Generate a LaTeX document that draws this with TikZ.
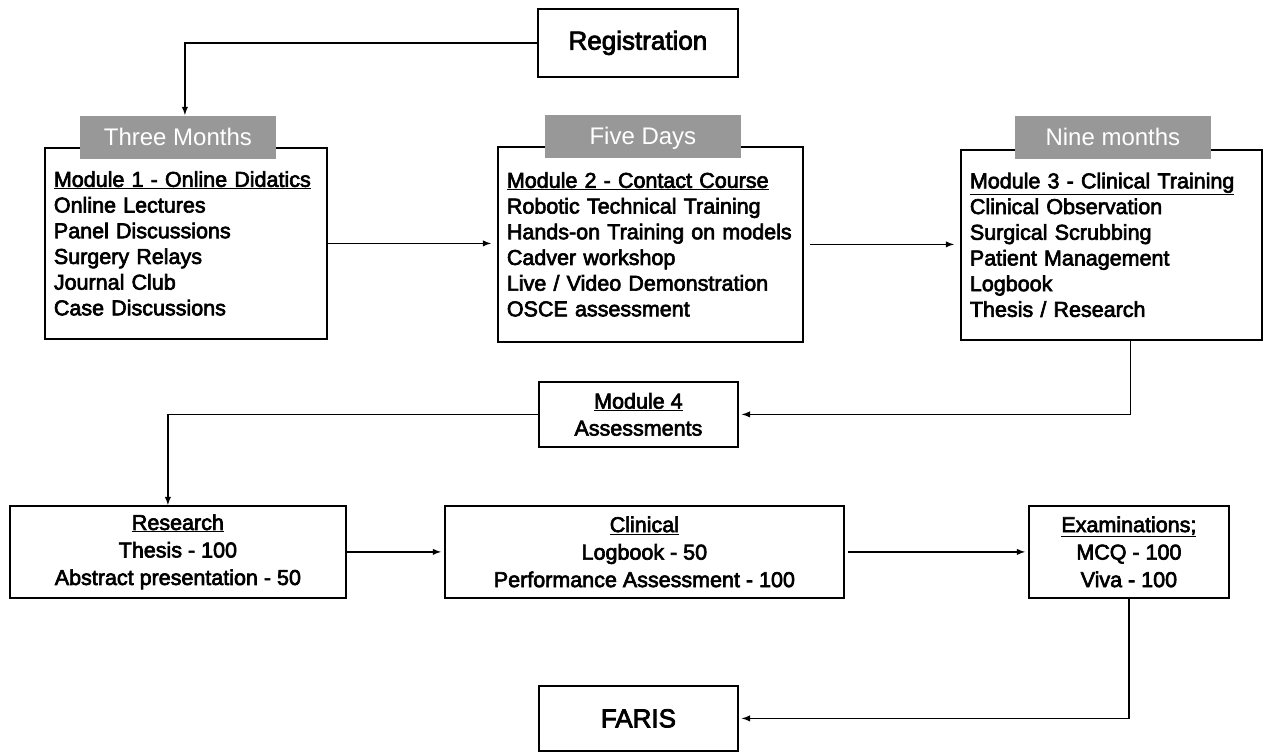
\documentclass[tikz,border=0pt]{standalone}
\usepackage{fontspec}
\setmainfont{Liberation Sans}
\newfontfamily\boxfont{Liberation Sans}[FakeBold=3]
\definecolor{tabgray}{RGB}{152,152,152}

\tikzset{
	stage/.style={draw, rectangle, anchor=north west, align=left, inner xsep=9pt,
		font=\boxfont\fontsize{21.5}{25.7}\selectfont},
	score/.style={draw, rectangle, anchor=north west, align=center,
		font=\boxfont\fontsize{21.5}{27.5}\selectfont},
	tab/.style={rectangle, fill=tabgray, text=white, anchor=north west, inner sep=0pt,
		minimum width=196pt, minimum height=43pt, text height=17pt, text depth=0pt,
		font=\fontsize{24}{24}\selectfont},
}

\begin{document}
\begin{tikzpicture}[x=1pt, y=-1pt, >=latex, line width=1.8pt]
		\useasboundingbox (0,0) rectangle (1263,752);
		
		\node (reg) [score, minimum width=200pt, minimum height=68pt, font=\boxfont\fontsize{26}{30}\selectfont] at (537,8) {Registration};
		
		\node (didactic) [stage, minimum width=282pt, minimum height=191pt, text width=264pt] at (44,147) {\underline{Module 1 - Online Didatics}\\Online Lectures\\Panel Discussions\\Surgery Relays\\Journal Club\\Case Discussions};
		\node (contact) [stage, minimum width=305pt, minimum height=195pt, text width=287pt] at (497,146) {\underline{Module 2 - Contact Course}\\Robotic Technical Training\\Hands-on Training on models\\Cadver workshop\\Live / Video Demonstration\\OSCE assessment};
		\node (clinic) [stage, minimum width=301pt, minimum height=190pt, text width=283pt] at (960,149) {\underline{Module 3 - Clinical Training}\\Clinical Observation\\Surgical Scrubbing\\Patient Management\\Logbook\\Thesis / Research};
		
		\node (tabone) [tab] at (79,115) {Three Months};
		\node (tabtwo) [tab] at (544,114) {Five Days};
		\node (tabthree) [tab] at (1014,115) {Nine months};
		
		\node (mod4) [score, minimum width=199pt, minimum height=65pt, font=\boxfont\fontsize{21.5}{27}\selectfont] at (538,381) {\underline{Module 4}\\Assessments};
		
		\node (research) [score, minimum width=336pt, minimum height=92pt] at (9,505) {\underline{Research}\\Thesis - 100\\Abstract presentation - 50};
		\node (clinical) [score, minimum width=399pt, minimum height=92pt] at (444,505) {\underline{Clinical}\\Logbook - 50\\Performance Assessment - 100};
		\node (exams) [score, minimum width=200pt, minimum height=92pt] at (1028,505) {\underline{Examinations;}\\MCQ - 100\\Viva - 100};
		
		\node (faris) [score, minimum width=199pt, minimum height=65pt, font=\boxfont\fontsize{26}{30}\selectfont] at (538,685) {FARIS};
		
		\draw[->] (reg.west) -| ([xshift=7pt]tabone.north);
		\draw[->, shorten >=6pt] (didactic.east) -- (didactic.east -| contact.west);
		\draw[->, shorten <=6pt, shorten >=6pt] (contact.east) -- (contact.east -| clinic.west);
		\draw[->, shorten >=3pt] ([xshift=19pt]clinic.south) |- (mod4.east);
		\draw[->] (mod4.west) -| ([xshift=-10pt]research.north);
		\draw[->, shorten >=3pt] (research.east) -- (clinical.west);
		\draw[->, shorten <=3pt, shorten >=3pt] (clinical.east) -- (exams.west);
		\draw[->, shorten >=3pt] (exams.south) |- (faris.east);
	\end{tikzpicture}
\end{document}
